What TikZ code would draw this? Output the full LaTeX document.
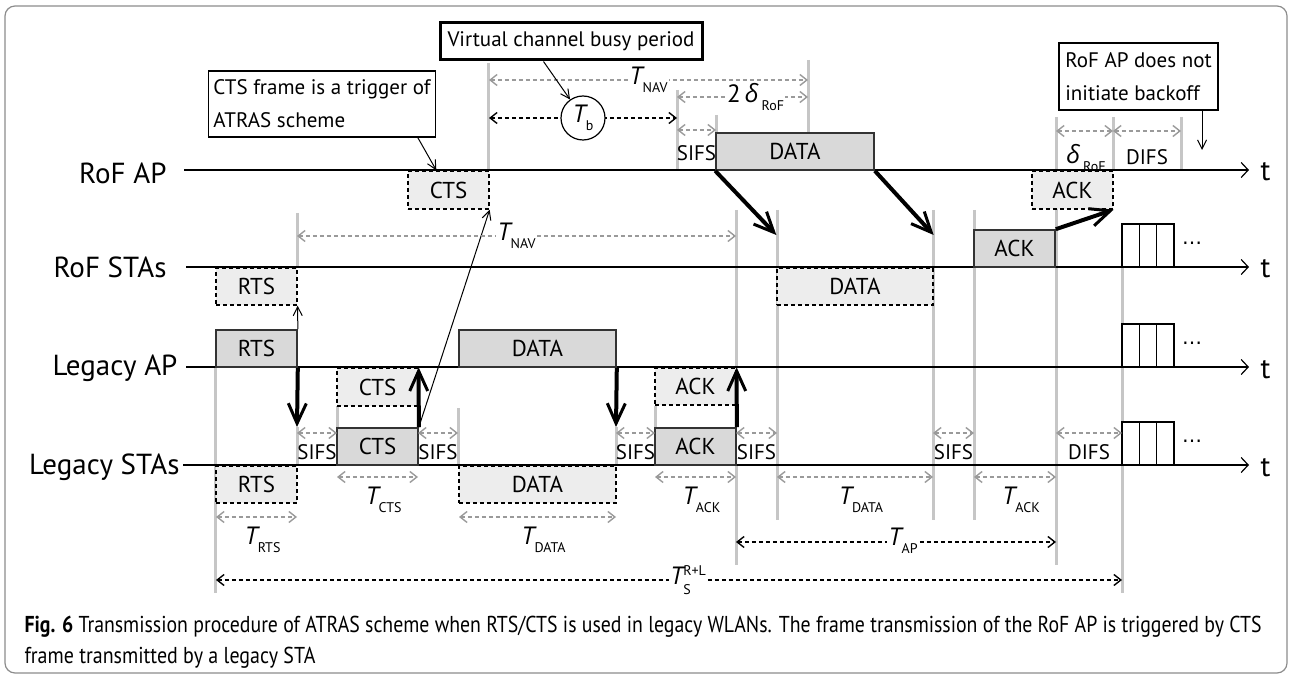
\documentclass[tikz,border=0pt]{standalone}
\usepackage{fontspec}
\setmainfont{PT Sans}
\newfontfamily\grkfont{Open Sans}
\newfontfamily\symfont{DejaVu Sans}
\usetikzlibrary{arrows.meta,calc,positioning}

\definecolor{boxgray}{HTML}{D9D9D9}
\definecolor{heardgray}{HTML}{EDEDED}
\definecolor{guidegray}{HTML}{C6C6C6}
\definecolor{dimgray}{HTML}{9A9A9A}
\definecolor{framegray}{HTML}{8C8C8C}

\newcommand{\rowfont}{\fontsize{29}{29}\selectfont}
\newcommand{\boxfont}{\fontsize{23}{23}\selectfont}
\newcommand{\notefont}{\fontsize{21}{33}\selectfont}
\newcommand{\capfont}{\fontsize{23}{23}\selectfont}
% T with a lowered index
\newcommand{\tlab}[1]{{\fontsize{25}{25}\selectfont\itshape T}\raisebox{-8pt}{\fontsize{14}{14}\selectfont #1}}
\newcommand{\dlab}[1]{{\fontsize{25}{25}\selectfont\grkfont\itshape δ}\kern3pt\raisebox{-8pt}{\fontsize{14}{14}\selectfont #1}}

\tikzset{
  timeaxis/.style={line width=1.4pt, -{Straight Barb[length=7pt,width=15pt,line width=1.2pt]}},
  guide/.style={guidegray, line width=3pt},
  busybox/.style={draw=black!80, line width=1.6pt, fill=boxgray, font=\boxfont, inner sep=0pt},
  heardbox/.style={draw=black, line width=1.3pt, dash pattern=on 4pt off 3pt, fill=heardgray, font=\boxfont, inner sep=0pt},
  dimline/.style={dimgray, line width=1.4pt, dash pattern=on 4pt off 3pt,
    {Straight Barb[length=7pt,width=11pt]}-{Straight Barb[length=7pt,width=11pt]}},
  spanline/.style={black, line width=1.4pt, dash pattern=on 4pt off 3pt,
    {Straight Barb[length=7pt,width=11pt]}-{Straight Barb[length=7pt,width=11pt]}},
  bigarrow/.style={line width=4pt, -{Straight Barb[length=20pt,width=18pt,line width=3pt]}},
  thinarrow/.style={line width=1pt, -{Straight Barb[length=9pt,width=9pt]}},
  note/.style={draw, line width=1.3pt, fill=white, font=\notefont, inner sep=5pt, align=left},
  gaplabel/.style={fill=white, text=black, inner sep=1pt},
  ifslabel/.style={font=\fontsize{21}{21}\selectfont, inner sep=0pt},
}

\begin{document}
\begin{tikzpicture}[x=1pt, y=-1pt]
\useasboundingbox (0,0) rectangle (1291,676);
\draw[framegray, line width=1.2pt, rounded corners=10pt] (5,6) rectangle (1287,673);

% Guide lines.
\foreach \x/\ya/\yb in {215/367/593, 297/213/267, 297/427/465, 337/406/428,
  458/408/465, 488/63/170, 616/427/465, 655/406/428, 677/90/170, 716/115/133,
  736/210/367, 736/465/565, 777/210/520, 808/60/133, 933/210/520, 974/210/520,
  1056/117/565, 1113/117/170, 1181/117/170, 1122/223/593}
\draw[guide] (\x,\ya) -- (\x,\yb);

% Time axes.
\draw[timeaxis] (184,170) -- (1249,170);
\draw[timeaxis] (186,267) -- (1249,267);
\draw[timeaxis] (186,367) -- (1249,367);
\draw[timeaxis] (183,465) -- (1249,465);
\foreach \y in {170,267,367,465}
\node[font=\rowfont, anchor=base west] (t\y) at (1257,\y+11) {t};
\node[font=\rowfont, anchor=base east] (rofap) at (170,184) {RoF AP};
\node[font=\rowfont, anchor=base east] (rofsta) at (170,278) {RoF STAs};
\node[font=\rowfont, anchor=base east] (legap) at (181,376) {Legacy AP};
\node[font=\rowfont, anchor=base east] (legsta) at (183,474) {Legacy STAs};

% Frames on the RoF AP axis.
\node[heardbox, minimum width=81, minimum height=38] (ctsRA) at (448.5,190) {CTS};
\node[busybox, minimum width=158, minimum height=37] (dataRA) at (795,151.5) {DATA};
\node[heardbox, minimum width=81, minimum height=38] (ackRA) at (1072.5,190) {ACK};

% Frames on the RoF STAs axis.
\node[heardbox, minimum width=81, minimum height=37] (rtsRS) at (256.5,286.5) {RTS};
\node[heardbox, minimum width=156, minimum height=37] (dataRS) at (855,286.5) {DATA};
\node[busybox, minimum width=81, minimum height=37] (ackRS) at (1014.5,248.5) {ACK};

% Frames on the legacy AP axis.
\node[busybox, minimum width=81, minimum height=37] (rtsLA) at (256.5,348.5) {RTS};
\node[heardbox, minimum width=81, minimum height=38] (ctsLA) at (377.5,387) {CTS};
\node[busybox, minimum width=157, minimum height=37] (dataLA) at (537.5,348.5) {DATA};
\node[heardbox, minimum width=81, minimum height=37] (ackLA) at (695.5,386.5) {ACK};

% Frames on the legacy STAs axis.
\node[heardbox, minimum width=81, minimum height=37] (rtsLS) at (256.5,484.5) {RTS};
\node[busybox, minimum width=81, minimum height=37] (ctsLS) at (377.5,446.5) {CTS};
\node[heardbox, minimum width=157, minimum height=37] (dataLS) at (537.5,484.5) {DATA};
\node[busybox, minimum width=81, minimum height=37] (ackLS) at (695.5,446.5) {ACK};

% Queued frames.
\foreach \y in {267,367,465} {
  \foreach \i in {0,1,2}
  \draw[line width=1.5pt, fill=white] (1122+\i*17.33,\y) rectangle ++(17.33,-43);
  \node[font=\symfont\fontsize{20}{20}\selectfont] (more\y) at (1192,\y-21) {⋯};
}

% Transmissions.
\draw[thinarrow] (rtsLA.north east) -- (rtsRS.south east);
\draw[bigarrow] (rtsLA.south east) -- (297,427);
\draw[bigarrow] (ctsLS.north east) -- (ctsLA.north east);
\draw[thinarrow] (ctsLS.north east) -- (ctsRA.south east);
\draw[bigarrow] (dataLA.south east) -- (616,427);
\draw[bigarrow] (ackLS.north east) -- (ackLA.north east);
\draw[bigarrow] (dataRA.south west) -- (dataRS.north west |- 0,235);
\draw[bigarrow] (dataRA.south east) -- (dataRS.north east |- 0,235);
\draw[bigarrow] (ackRS.north east) -- (ackRA.south east);

% Intervals above the RoF AP axis.
\draw[dimline] (489,80) -- (808,80) node[gaplabel, solid, midway] (navA) {\tlab{NAV}};
\draw[dimline] (677,97) -- (808,97)
  node[gaplabel, solid, pos=0.6] (twodelta) {{\fontsize{25}{25}\selectfont 2\,}\dlab{RoF}};
\draw[spanline] (489,118) -- (677,118)
  node[midway, circle, draw, solid, line width=1.2pt, fill=white, text=black, minimum size=44] (tb) {\tlab{b}};
\draw[dimline] (677,130) -- (716,130);
\node[ifslabel] (sifsA) at (696.5,153) {SIFS};
\draw[dimline] (1056,131) -- (1113,131);
\node (delta) at (1086,158) {\dlab{RoF}};
\draw[dimline] (1113,131) -- (1181,131);
\node[ifslabel] (difsA) at (1147,157) {DIFS};

% NAV of the RoF STAs.
\draw[dimline] (297,236) -- (736,236) node[gaplabel, solid, midway] (navS) {\tlab{NAV}};

% Interframe spaces on the legacy STAs axis.
\foreach \xa/\xb/\txt in {297/337/SIFS, 418/458/SIFS, 616/655/SIFS,
  736/777/SIFS, 933/974/SIFS, 1056/1122/DIFS} {
  \draw[dimline] (\xa,433) -- (\xb,433);
  \node[ifslabel] (ifs\xa) at ({(\xa+\xb)/2},452) {\txt};
}

% Frame durations.
\foreach \xa/\xb/\yy/\sub in {216/297/517/RTS, 337/418/477/CTS, 459/616/517/DATA,
  655/736/477/ACK, 777/933/477/DATA, 974/1056/477/ACK} {
  \draw[dimline] (\xa,\yy) -- (\xb,\yy);
  \node[anchor=north] (dur\xa) at ({(\xa+\xb)/2+6},{\yy+6}) {\tlab{\sub}};
}
\draw[spanline] (736,542) -- (1056,542);
\node[gaplabel] (tap) at (903,541) {\tlab{AP}};
\draw[spanline] (216,580) -- (1122,580);
\node[gaplabel] (ts) at (688,580) {{\fontsize{25}{25}\selectfont\itshape T}\makebox[0pt][l]{\raisebox{-10pt}{\fontsize{14}{14}\selectfont S}}\raisebox{9pt}{\fontsize{14}{14}\selectfont R+L}};

% Notes.
\node[note, minimum width=226, minimum height=66] (trigger) at (322,104)
  {CTS frame is a trigger of\\ATRAS scheme};
\draw[thinarrow] ($(trigger.south west)+(210,0)$) -- ($(ctsRA.north west)+(29,0)$);
\node[note, line width=3pt, align=center, minimum width=262, minimum height=37] (busy) at (571,41.5)
  {Virtual channel busy period};
\draw[thinarrow] ($(busy.south west)+(105,0)$) -- (tb.125);
\node[note, minimum width=159, minimum height=67] (nobackoff) at (1138.5,76.5)
  {RoF AP does not\\initiate backoff};
\coordinate (backoff) at (1202,150);
\draw[thinarrow] (nobackoff.south -| backoff) -- (backoff);

% Caption.
\node[font=\capfont, anchor=base west] (cap1) at (21,632)
  {\resizebox{1237pt}{\height}{\textbf{Fig. 6} Transmission procedure of ATRAS scheme when RTS/CTS is used in legacy WLANs. The frame transmission of the RoF AP is triggered by CTS}};
\node[font=\capfont, anchor=base west] (cap2) at (21,663)
  {\resizebox{291pt}{\height}{frame transmitted by a legacy STA}};
\end{tikzpicture}
\end{document}
